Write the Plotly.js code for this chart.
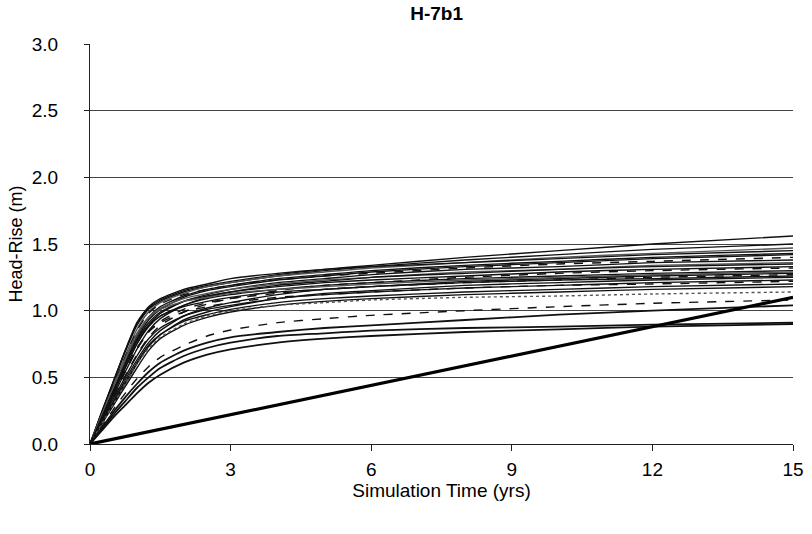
<!DOCTYPE html>
<html>
<head>
<meta charset="utf-8">
<script src="https://cdn.plot.ly/plotly-3.0.1.min.js"></script>
<style>html,body{margin:0;padding:0;background:#fff;}#chart{width:812px;height:534px;}</style>
</head>
<body>
<div id="chart"></div>
<script>
// Simulation times (yrs)
const times = [0, 0.25, 0.5, 0.75, 1, 1.25, 1.5, 2, 2.5, 3, 4, 5, 6, 8, 10, 12, 15];

// Head-rise realizations (m)
const run01 = [0,0.24,0.47,0.70,0.90,1.02,1.08,1.15,1.19,1.22,1.27,1.31,1.34,1.40,1.45,1.50,1.56];
const run02 = [0,0.23,0.46,0.69,0.89,1.01,1.07,1.14,1.18,1.21,1.26,1.30,1.33,1.38,1.42,1.46,1.50];
const run03 = [0,0.22,0.44,0.66,0.86,0.99,1.06,1.13,1.18,1.21,1.26,1.29,1.32,1.36,1.40,1.43,1.47];
const run04 = [0,0.24,0.47,0.70,0.91,1.03,1.09,1.16,1.20,1.24,1.28,1.31,1.33,1.36,1.39,1.42,1.45];
const run05 = [0,0.21,0.42,0.62,0.81,0.95,1.03,1.11,1.16,1.19,1.24,1.27,1.30,1.34,1.37,1.40,1.43];
const run06 = [0,0.20,0.40,0.60,0.79,0.93,1.01,1.10,1.15,1.18,1.23,1.26,1.29,1.33,1.36,1.39,1.42];
const run07 = [0,0.22,0.44,0.65,0.85,0.98,1.05,1.12,1.16,1.19,1.23,1.26,1.28,1.32,1.35,1.37,1.40];
const run08 = [0,0.19,0.38,0.57,0.75,0.89,0.98,1.07,1.12,1.16,1.21,1.24,1.27,1.31,1.33,1.36,1.38];
const run09 = [0,0.21,0.42,0.63,0.82,0.95,1.02,1.09,1.13,1.16,1.20,1.23,1.25,1.29,1.31,1.34,1.36];
const run10 = [0,0.18,0.36,0.54,0.71,0.85,0.94,1.04,1.10,1.14,1.19,1.22,1.25,1.28,1.31,1.33,1.35];
const run11 = [0,0.20,0.40,0.60,0.78,0.91,0.99,1.07,1.11,1.14,1.18,1.21,1.23,1.26,1.29,1.31,1.33];
const run12 = [0,0.17,0.34,0.51,0.67,0.80,0.89,0.99,1.05,1.09,1.15,1.19,1.21,1.25,1.28,1.30,1.32];
const run13 = [0,0.19,0.38,0.57,0.75,0.88,0.96,1.04,1.09,1.12,1.16,1.19,1.21,1.24,1.26,1.28,1.30];
const run14 = [0,0.22,0.43,0.64,0.83,0.95,1.01,1.07,1.10,1.13,1.16,1.18,1.20,1.23,1.25,1.27,1.29];
const run15 = [0,0.16,0.32,0.48,0.63,0.76,0.85,0.96,1.02,1.06,1.12,1.16,1.18,1.22,1.24,1.26,1.28];
const run16 = [0,0.18,0.36,0.54,0.71,0.84,0.92,1.01,1.06,1.09,1.13,1.16,1.18,1.21,1.23,1.25,1.27];
const run17 = [0,0.20,0.40,0.59,0.77,0.89,0.96,1.03,1.07,1.10,1.14,1.16,1.18,1.21,1.23,1.24,1.26];
const run18 = [0,0.15,0.30,0.45,0.60,0.73,0.82,0.93,0.99,1.03,1.09,1.13,1.15,1.19,1.21,1.23,1.25];
const run19 = [0,0.17,0.34,0.50,0.66,0.79,0.87,0.96,1.01,1.04,1.09,1.12,1.14,1.17,1.19,1.21,1.23];
const run20 = [0,0.19,0.37,0.55,0.72,0.84,0.91,0.99,1.03,1.06,1.10,1.12,1.14,1.17,1.19,1.20,1.22];
const run21 = [0,0.16,0.31,0.46,0.61,0.74,0.82,0.92,0.97,1.01,1.06,1.09,1.11,1.14,1.16,1.18,1.20];
const run22 = [0,0.15,0.29,0.43,0.57,0.70,0.79,0.89,0.95,0.99,1.04,1.07,1.09,1.12,1.14,1.16,1.18];
const run23 = [0,0.15,0.30,0.45,0.60,0.72,0.80,0.90,0.96,1.00,1.04,1.06,1.08,1.10,1.11,1.125,1.14];
const run24 = [0,0.13,0.26,0.38,0.49,0.58,0.65,0.74,0.81,0.855,0.91,0.94,0.965,1.00,1.03,1.055,1.08];
const run25 = [0,0.12,0.24,0.35,0.45,0.54,0.61,0.70,0.76,0.80,0.84,0.87,0.89,0.93,0.97,1.00,1.04];
const run26 = [0,0.11,0.22,0.32,0.42,0.50,0.57,0.66,0.72,0.76,0.81,0.83,0.85,0.87,0.88,0.895,0.91];
const run27 = [0,0.10,0.20,0.29,0.38,0.46,0.52,0.61,0.67,0.71,0.76,0.79,0.81,0.84,0.86,0.88,0.90];

// Straight reference line
const lineTimes = [0, 15];
const lineRise = [0, 1.10];

// Axis ticks
const xTicks = [0, 3, 6, 9, 12, 15];
const xTickLabels = ['0', '3', '6', '9', '12', '15'];
const yTicks = [0, 0.5, 1.0, 1.5, 2.0, 2.5, 3.0];
const yTickLabels = ['0.0', '0.5', '1.0', '1.5', '2.0', '2.5', '3.0'];

const runs = [run01,run02,run03,run04,run05,run06,run07,run08,run09,run10,run11,run12,run13,run14,
              run15,run16,run17,run18,run19,run20,run21,run22,run23,run24,run25,run26,run27];
const dashStyles = {11:'dash', 15:'dash', 19:'dash', 23:'dash', 22:'dot', 6:'dash'};
const greyRuns = {22:true, 2:true, 8:true, 13:true};

const traces = runs.map((v, i) => ({
  x: times, y: v, type: 'scatter', mode: 'lines',
  line: {color: greyRuns[i] ? '#555' : '#111', width: (i >= 24 ? 1.8 : 1.4),
         dash: dashStyles[i] || 'solid', shape: 'spline', smoothing: 0.6},
  hoverinfo: 'skip', showlegend: false
}));
traces.push({x: lineTimes, y: lineRise, type: 'scatter', mode: 'lines',
  line: {color: '#000', width: 3.2}, showlegend: false, hoverinfo: 'skip'});

const font = 'Liberation Sans, Arial, sans-serif';
const layout = {
  width: 812, height: 534,
  margin: {l: 90, r: 19, t: 44, b: 90},
  paper_bgcolor: '#fff', plot_bgcolor: '#fff',
  font: {family: font, color: '#000', size: 18},
  title: {text: '<b>H-7b1</b>', font: {family: font, size: 19, color: '#000'},
          x: 0.493, xref: 'paper', y: 0.987, yref: 'container', xanchor: 'center', yanchor: 'top'},
  xaxis: {range: [0, 15], tickvals: xTicks, ticktext: xTickLabels,
          showgrid: false, zeroline: false, showline: true, linecolor: '#222', linewidth: 1,
          ticks: 'outside', ticklen: 6, tickcolor: '#222', ticklabelstandoff: 2,
          tickfont: {family: font, size: 19},
          title: {text: 'Simulation Time (yrs)', font: {family: font, size: 19}, standoff: 4}},
  yaxis: {range: [0, 3], tickvals: yTicks, ticktext: yTickLabels,
          showgrid: true, gridcolor: '#444', gridwidth: 1, zeroline: false,
          showline: true, linecolor: '#222', linewidth: 1,
          ticks: 'outside', ticklen: 5, tickcolor: '#222', ticklabelstandoff: 22,
          tickfont: {family: font, size: 19},
          title: {text: 'Head-Rise (m)', font: {family: font, size: 18}, standoff: 4}}
};
Plotly.newPlot('chart', traces, layout, {staticPlot: true, displayModeBar: false});
</script>
</body>
</html>
